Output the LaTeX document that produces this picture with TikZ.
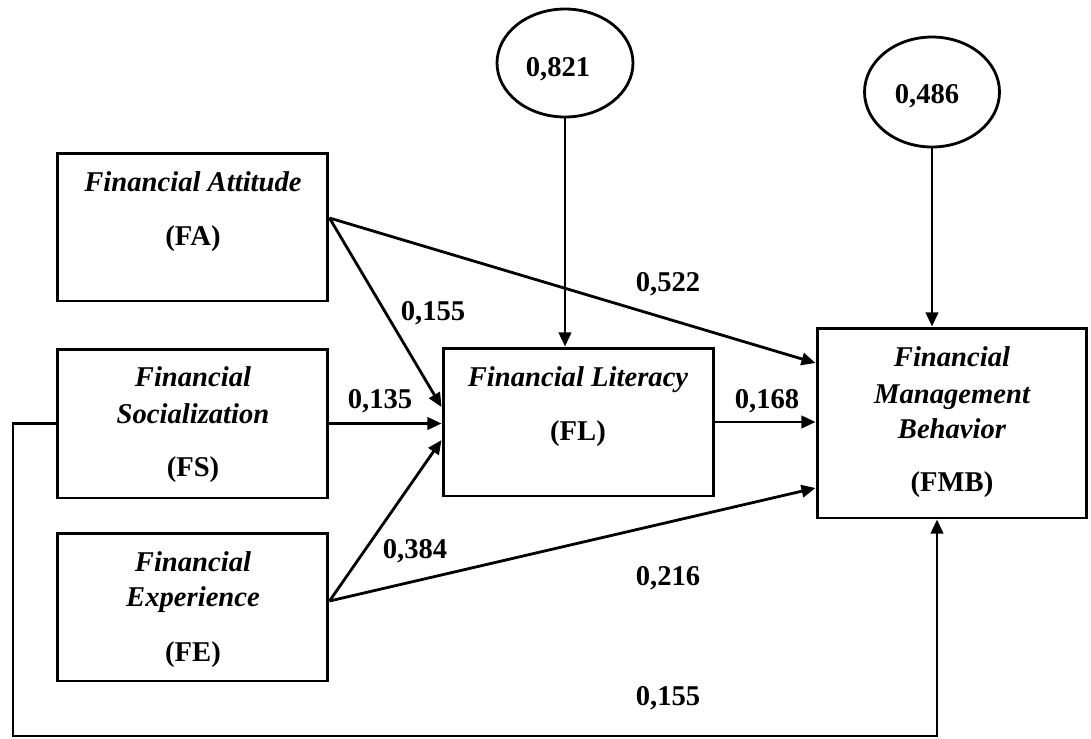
\documentclass[tikz,border=0pt]{standalone}
\usepackage{fontspec}
\setmainfont{Liberation Serif}
\usetikzlibrary{arrows.meta,shapes.geometric}
\newcommand{\BoxFont}{\fontsize{16.3}{19}\selectfont\bfseries}
\tikzset{
	construct/.style={draw, line width=1.7pt, inner sep=0pt,
		minimum width=5.42cm, minimum height=2.96cm},
	latent/.style={draw, ellipse, line width=1.6pt, inner sep=0pt},
	cname/.style={inner sep=0pt, text height=0.7em, text depth=0.2em, font=\BoxFont\itshape},
	cabbr/.style={inner sep=0pt, text height=0.7em, text depth=0.2em, font=\BoxFont},
	coef/.style={inner sep=0pt, text height=0.7em, text depth=0.2em, font=\BoxFont},
	link/.style={line width=1.6pt, -{Triangle[length=8pt,width=7pt]}}
}

\begin{document}
\begin{tikzpicture}[x=0.02cm, y=-0.02cm]
	\useasboundingbox (0,0) rectangle (1091,738);
	% constructs
	\node[construct] (FA) at (192.5,227) {};
	\node[construct, minimum height=2.98cm] (FS) at (192.5,423.5) {};
	\node[construct] (FE) at (192.5,607) {};
	\node[construct] (FL) at (578.5,422) {};
	\node[construct, minimum width=5.4cm, minimum height=3.8cm] (FMB) at (952,423) {};
	\node[latent, minimum width=2.72cm, minimum height=2.16cm] (E1) at (565,63) {};
	\node[latent, minimum width=2.7cm, minimum height=2.2cm] (E2) at (932,92) {};
	% texts
	\node[coef] (E1t) at (558,72) {0,821};
	\node[coef] (E2t) at (927,99) {0,486};
	\node[cname] (FAt) at (193,187) {Financial Attitude};
	\node[cabbr] (FAa) at (193,241) {(FA)};
	\node[cname] (FSt) at (193,382) {Financial};
	\node[cname] (FSu) at (193,419) {Socialization};
	\node[cabbr] (FSa) at (193,472) {(FS)};
	\node[cname] (FEt) at (193,567) {Financial};
	\node[cname] (FEu) at (193,602) {Experience};
	\node[cabbr] (FEa) at (193,657) {(FE)};
	\node[cname] (FLt) at (578,382) {Financial Literacy};
	\node[cabbr] (FLa) at (578,436) {(FL)};
	\node[cname] (FMBt) at (952,362) {Financial};
	\node[cname] (FMBu) at (952,399) {Management};
	\node[cname] (FMBv) at (952,434) {Behavior};
	\node[cabbr] (FMBa) at (952,487) {(FMB)};
	% paths
	\draw[link] ([yshift=0.18cm]FA.east) -- ([yshift=0.3cm]FL.west);
	\draw[link] ([yshift=0.18cm]FA.east) -- ([yshift=1.2cm]FMB.west);
	\draw[link] (FS.east) -- (FS.east -| FL.west);
	\draw[link] ([yshift=0.12cm]FE.east) -- ([yshift=-0.36cm]FL.west);
	\draw[link] ([yshift=0.12cm]FE.east) -- ([yshift=-1.3cm]FMB.west);
	\draw[link] (FL.east) -- (FL.east -| FMB.west);
	\draw[link] (E1.south) -- (E1.south |- FL.north);
	\draw[link] (E2.south) -- (E2.south |- FMB.north);
	\coordinate (corner) at (13,736);
	\draw[link] (FS.west) -| (corner) -| ([xshift=-0.3cm]FMB.south);
	% coefficients
	\node[coef] (bFAFL) at (433,316) {0,155};
	\node[coef] (bFAFMB) at (668,287) {0,522};
	\node[coef] (bFSFL) at (380,404) {0,135};
	\node[coef] (bFLFMB) at (767,404) {0,168};
	\node[coef] (bFEFL) at (415,554) {0,384};
	\node[coef] (bFEFMB) at (668,581) {0,216};
	\node[coef] (bFSFMB) at (668,701) {0,155};
\end{tikzpicture}
\end{document}
